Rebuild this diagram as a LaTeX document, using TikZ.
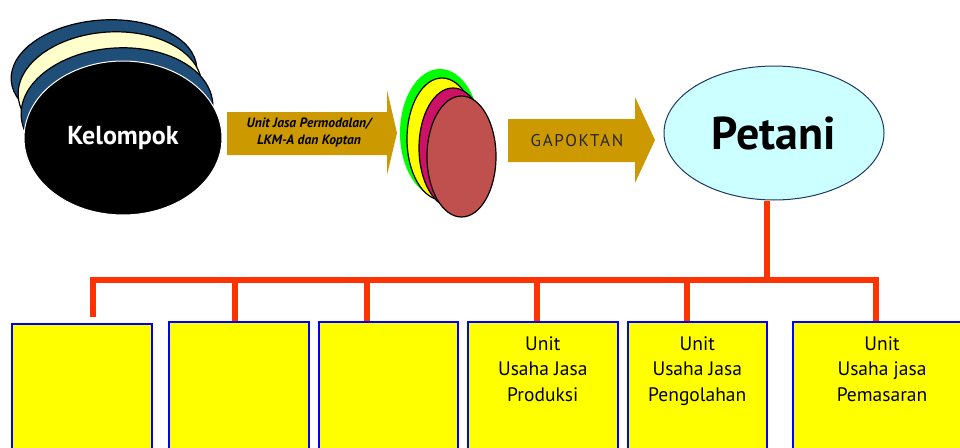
\documentclass[tikz,border=0pt]{standalone}
\usepackage{fontspec}
\setmainfont{PT Sans}
\newfontfamily\spacedfont[LetterSpace=10]{PT Sans}
\usetikzlibrary{calc,shapes.geometric}
\definecolor{gold}{HTML}{CC9900}
\definecolor{navy}{HTML}{1F4E79}
\definecolor{cream}{HTML}{FFFFCC}
\definecolor{busred}{HTML}{FF3300}
\definecolor{boxblue}{HTML}{0000FF}
\definecolor{boxyellow}{HTML}{FFFF00}
\definecolor{petfill}{HTML}{CCFFFF}
\definecolor{petline}{HTML}{1F3864}
\definecolor{berry}{HTML}{CC1166}
\definecolor{brick}{HTML}{C0504D}
\definecolor{lime}{HTML}{00FF00}
\begin{document}
\begin{tikzpicture}[x=1pt,y=1pt,
  disc/.style={draw=black, line width=1.2pt},
  unitbox/.style={draw=boxblue, fill=boxyellow, line width=1.5pt, anchor=north west, minimum height=150pt, inner sep=0pt},
  boxtext/.style={anchor=north, align=center, font=\fontsize{19.5}{25.5}\selectfont, inner sep=0pt},
  bus/.style={draw=busred, line width=6pt, line join=miter},
  blockarrow/.style={fill=gold}]
\useasboundingbox (0,-447) rectangle (960,0);
\clip (0,-447) rectangle (960,0);
% Kelompok stack
\draw[disc, fill=navy, rotate around={4:(104,-74)}] (104,-74) ellipse [x radius=93, y radius=54];
\draw[disc, fill=cream, rotate around={4:(110,-90)}] (110,-90) ellipse [x radius=92, y radius=58];
\draw[disc, fill=navy, rotate around={4:(117,-110)}] (117,-110) ellipse [x radius=96, y radius=62];
\node[ellipse, fill=black, draw=white, line width=1pt, minimum width=198pt, minimum height=154pt, inner sep=0pt,
  text=white, font=\bfseries\fontsize{26}{30}\selectfont] (kel) at (123,-138) {Kelompok};
% arrow 1
\fill[blockarrow] (227,-112) -- (387,-112) -- (387,-90) -- (397,-133) -- (387,-175) -- (387,-155) -- (227,-155) -- cycle;
\node[align=center, font=\bfseries\itshape\fontsize{13.5}{17}\selectfont, inner sep=0pt] (a1) at (309,-133) {Unit Jasa Permodalan/\\LKM-A dan Koptan};
% middle stack
\fill[lime] (440,-133) ellipse [x radius=40, y radius=64];
\draw[disc, fill=boxyellow] (442,-139) ellipse [x radius=35, y radius=61];
\draw[disc, fill=berry] (453,-148) ellipse [x radius=34, y radius=60];
\node[ellipse, disc, fill=brick, minimum width=69pt, minimum height=121pt, inner sep=0pt] (mid) at (461.5,-156.5) {};
% arrow 2
\fill[blockarrow] (508,-119) -- (635,-119) -- (635,-97) -- (655,-140) -- (635,-183) -- (635,-162) -- (508,-162) -- cycle;
\node[font=\spacedfont\fontsize{17}{19}\selectfont, text=black!85, inner sep=0pt] (a2) at (577,-141) {GAPOKTAN};
% Petani
\node[ellipse, draw=petline, line width=1pt, fill=petfill, minimum width=220pt, minimum height=134pt, inner sep=0pt,
  font=\bfseries\fontsize{46}{52}\selectfont] (pet) at (774,-133) {Petani};
% boxes
\node[unitbox, minimum width=140pt] (b1) at (11,-323) {};
\node[unitbox, minimum width=140pt] (b2) at (168,-321) {};
\node[unitbox, minimum width=139pt] (b3) at (318,-321) {};
\node[unitbox, minimum width=150pt] (b4) at (467,-321) {};
\node[unitbox, minimum width=139pt] (b5) at (627,-321) {};
\node[unitbox, minimum width=188pt] (b6) at (792,-321) {};
\node[boxtext] (t4) at ($(b4.north)+(0,-15)$) {Unit\\Usaha Jasa\\Produksi};
\node[boxtext] (t5) at ($(b5.north)+(0,-15)$) {Unit\\Usaha Jasa\\Pengolahan};
\node[boxtext] (t6) at (882,-336) {Unit\\Usaha jasa\\Pemasaran};
% bus
\coordinate (jp) at (767,-280);
\coordinate (j1) at (93,-280);
\coordinate (j2) at (235,-280);
\coordinate (j3) at (367,-280);
\coordinate (j4) at (537,-280);
\coordinate (j5) at (687,-280);
\coordinate (j6) at (876,-280);
\coordinate (e1) at (93,-317);
\draw[bus] (jp |- pet.south) -- (jp);
\draw[bus] (e1) -- (j1) -- (j6) -- (j6 |- b6.north);
\draw[bus] (j2) -- (j2 |- b2.north);
\draw[bus] (j3) -- (j3 |- b3.north);
\draw[bus] (j4) -- (j4 |- b4.north);
\draw[bus] (j5) -- (j5 |- b5.north);
\end{tikzpicture}
\end{document}
